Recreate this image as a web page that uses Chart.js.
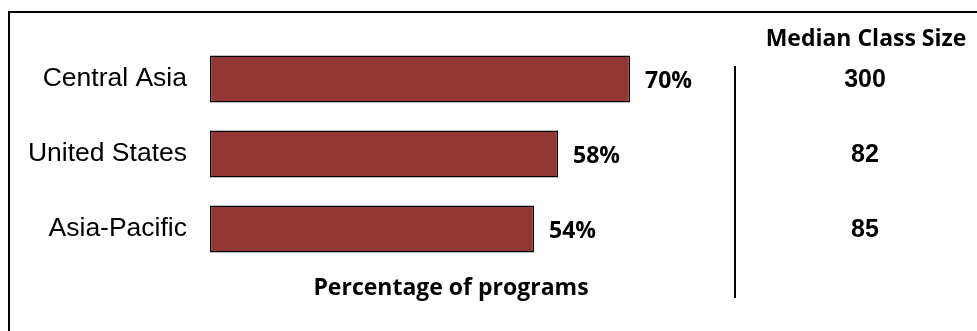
<!DOCTYPE html>
<html>
<head>
<meta charset="utf-8">
<script src="https://cdn.jsdelivr.net/npm/chart.js@4"></script>
<style>
  html, body { margin: 0; padding: 0; background: #fff; overflow: hidden; }
  #wrap { position: relative; width: 977px; height: 331px; }
  /* frame runs off the right and bottom edges */
  #frame { position: absolute; left: 8px; top: 11px; width: 1200px; height: 600px;
           border-left: 2px solid #000; border-top: 2px solid #000; pointer-events: none; }
  #myChart { position: absolute; left: 0; top: 0; }
</style>
</head>
<body>
<div id="wrap">
  <canvas id="myChart" width="977" height="331"></canvas>
  <div id="frame"></div>
</div>
<script>
const regions = ['Central Asia', 'United States', 'Asia-Pacific'];
const programShare = [70, 58, 54];
const classSizes = [300, 82, 85];
const axisTitle = 'Percentage of programs';
const sizeHeader = 'Median Class Size';

const boldFont = 'bold 23px "Open Sans", Lato, sans-serif';
const numberFont = 'bold 25px "Liberation Sans", Arial, sans-serif';

// value labels, the class size column and the axis title
const extrasPlugin = {
    id: 'extras',
    afterDatasetsDraw(chart) {
        const ctx = chart.ctx;
        const meta = chart.getDatasetMeta(0);
        const area = chart.chartArea;
        const yScale = chart.scales.y;

        ctx.save();
        ctx.fillStyle = '#000';
        ctx.font = boldFont;
        ctx.textBaseline = 'middle';

        // percentage next to each bar
        ctx.textAlign = 'left';
        meta.data.forEach((bar, i) => {
            ctx.fillText(programShare[i] + '%', bar.x + 15, bar.y + 2);
        });

        // divider between the bars and the class size column
        const lineX = 735;
        ctx.fillRect(lineX - 1, 66, 2, 232);

        // class size column
        ctx.textAlign = 'center';
        ctx.fillText(sizeHeader, 866, 39);
        ctx.font = numberFont;
        classSizes.forEach((v, i) => {
            ctx.fillText(String(v), 865, yScale.getPixelForValue(i) + 1);
        });

        // axis title under the bars
        ctx.font = boldFont;
        ctx.fillText(axisTitle, area.left + 241, 288);
        ctx.restore();
    }
};

const ctx = document.getElementById('myChart').getContext('2d');

const myChart = new Chart(ctx, {
    type: 'bar',
    data: {
        labels: regions,
        datasets: [{
            data: programShare,
            backgroundColor: '#943634',
            borderColor: '#000',
            borderWidth: 1.5,
            borderSkipped: false,
            categoryPercentage: 1,
            barPercentage: 0.627
        }]
    },
    options: {
        indexAxis: 'y',
        responsive: false,
        animation: false,
        events: [],
        layout: { padding: { left: 10, right: 167, top: 41.5, bottom: 64.5 } },
        plugins: {
            legend: { display: false },
            tooltip: { enabled: false }
        },
        scales: {
            x: {
                display: false,
                min: 0,
                max: 100
            },
            y: {
                grid: { display: false, drawTicks: false },
                border: { display: false },
                ticks: {
                    color: '#000',
                    padding: 23,
                    font: { family: '"Liberation Sans", Arial, sans-serif', size: 26.5 }
                },
                afterFit(scale) { scale.width = 200; }
            }
        }
    },
    plugins: [extrasPlugin]
});
</script>
</body>
</html>
